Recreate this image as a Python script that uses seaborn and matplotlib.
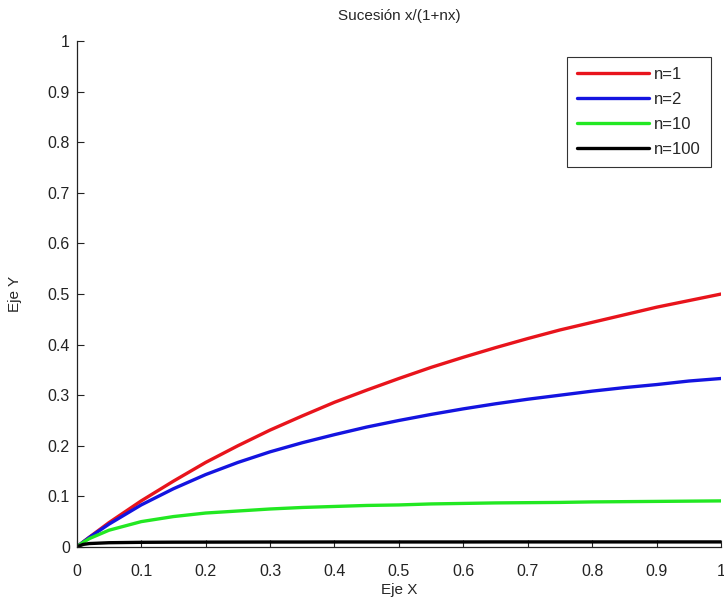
import matplotlib
matplotlib.use("Agg")
import matplotlib.pyplot as plt
import pandas as pd
import seaborn as sns

# values
x_vals = [0, 0.01, 0.02, 0.05, 0.1, 0.15, 0.2, 0.25, 0.3, 0.35, 0.4, 0.45, 0.5,
          0.55, 0.6, 0.65, 0.7, 0.75, 0.8, 0.85, 0.9, 0.95, 1.0]
y_n1 = [0, 0.0099, 0.0196, 0.048, 0.091, 0.13, 0.167, 0.2, 0.231, 0.259, 0.286, 0.31,
        0.333, 0.355, 0.375, 0.394, 0.412, 0.429, 0.444, 0.459, 0.474, 0.487, 0.5]
y_n2 = [0, 0.0098, 0.0192, 0.045, 0.083, 0.115, 0.143, 0.167, 0.188, 0.206, 0.222, 0.237,
        0.25, 0.262, 0.273, 0.283, 0.292, 0.3, 0.308, 0.315, 0.321, 0.328, 0.333]
y_n10 = [0, 0.009, 0.0167, 0.033, 0.05, 0.06, 0.067, 0.071, 0.075, 0.078, 0.08, 0.082,
         0.083, 0.085, 0.086, 0.087, 0.0875, 0.088, 0.089, 0.0895, 0.09, 0.0905, 0.091]
y_n100 = [0, 0.005, 0.0067, 0.0083, 0.0091, 0.0094, 0.0095, 0.0096, 0.0097, 0.0097, 0.0098,
          0.0098, 0.0098, 0.0098, 0.0098, 0.0099, 0.0099, 0.0099, 0.0099, 0.0099, 0.0099,
          0.0099, 0.0099]
series_names = ['n=1', 'n=2', 'n=10', 'n=100']
series_colors = ['#e8141c', '#1414e0', '#22e822', '#000000']
tick_vals = [0, 0.1, 0.2, 0.3, 0.4, 0.5, 0.6, 0.7, 0.8, 0.9, 1]
tick_labels = ['0', '0.1', '0.2', '0.3', '0.4', '0.5', '0.6', '0.7', '0.8', '0.9', '1']

rows = []
for name, ys in zip(series_names, [y_n1, y_n2, y_n10, y_n100]):
    for xv, yv in zip(x_vals, ys):
        rows.append((xv, yv, name))
df = pd.DataFrame(rows, columns=['x', 'y', 'serie'])

sns.set_theme(style="ticks")
plt.rcParams['font.family'] = ['Liberation Sans', 'DejaVu Sans']
plt.rcParams['xtick.direction'] = 'in'
plt.rcParams['ytick.direction'] = 'in'

fig = plt.figure(figsize=(7.24, 6.05), dpi=100)
ax = fig.add_axes([0.106, 0.096, 0.89, 0.836])

sns.lineplot(data=df, x='x', y='y', hue='serie', hue_order=series_names,
             palette=series_colors, linewidth=2.4, ax=ax)

ax.set_xlim(0, 1)
ax.set_ylim(0, 1)
ax.set_xticks(tick_vals)
ax.set_xticklabels(tick_labels)
ax.set_yticks(tick_vals)
ax.set_yticklabels(tick_labels)
ax.tick_params(labelsize=11.5, length=5, width=0.8, colors='#222222', pad=5)
ax.tick_params(axis='x', pad=12)
for side in ['top', 'right']:
    ax.spines[side].set_visible(False)
for side in ['left', 'bottom']:
    ax.spines[side].set_linewidth(0.9)
    ax.spines[side].set_color('#222222')

ax.set_title('Sucesión x/(1+nx)', fontsize=11, pad=15)
ax.set_xlabel('Eje X', fontsize=11, labelpad=3)
ax.set_ylabel('Eje Y', fontsize=11, labelpad=18)

leg = ax.legend(loc='upper right', bbox_to_anchor=(0.997, 0.985), fontsize=12,
                frameon=True, fancybox=False, edgecolor='black', handlelength=4.3,
                labelspacing=0.6, borderpad=0.6, handletextpad=0.3)
leg.get_frame().set_linewidth(0.8)

fig.savefig('out.png', dpi=100)
